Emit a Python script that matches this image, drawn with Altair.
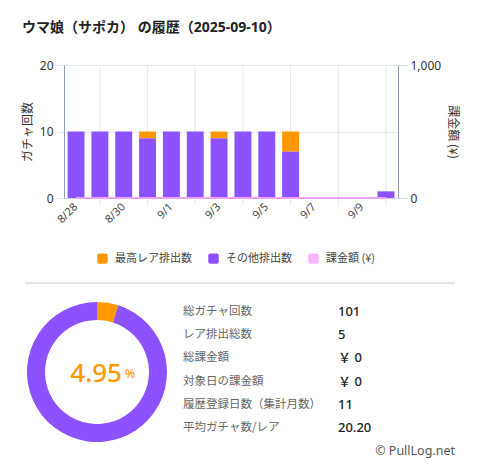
import altair as alt
import pandas as pd

# ---------------- data ----------------
dates = ["8/28", "8/29", "8/30", "8/31", "9/1", "9/2", "9/3",
         "9/4", "9/5", "9/6", "9/7", "9/8", "9/9", "9/10"]
rare = [0, 0, 0, 1, 0, 0, 1, 0, 0, 3, 0, 0, 0, 0]
other = [10, 10, 10, 9, 10, 10, 9, 10, 10, 7, 0, 0, 0, 1]
spend = [0, 0, 0, 0, 0, 0, 0, 0, 0, 0, 0, 0, 0, 0]
label_dates = dates[0::2]
grid_dates = dates[1::2]

series = ["最高レア排出数", "その他排出数", "課金額 (¥)"]
colors = ["#ff9800", "#8c52ff", "#f5b5fb"]

title_text = "ウマ娘（サポカ） の履歴（2025-09-10）"
left_title = "ガチャ回数"
right_title = "課金額 (¥)"
rate_text = "4.95"
donut_kinds = ["最高レア排出数", "その他排出数"]
donut_values = [5, 96]
stat_labels = ["総ガチャ回数", "レア排出総数", "総課金額", "対象日の課金額",
               "履歴登録日数（集計月数）", "平均ガチャ数/レア"]
stat_values = ["101", "5", "￥ 0", "￥ 0", "11", "20.20"]
footer = "© PullLog.net"

# ---------------- tables ----------------
bar_rows = []
for d, r, o in zip(dates, rare, other):
    bar_rows.append({"date": d, "kind": series[1], "count": o, "ord": 0})
    bar_rows.append({"date": d, "kind": series[0], "count": r, "ord": 1})
bar_df = pd.DataFrame(bar_rows)
day_df = pd.DataFrame({"date": dates, "spend": spend})
grid_df = pd.DataFrame({"date": grid_dates})
donut_df = pd.DataFrame({"kind": donut_kinds, "n": donut_values, "ord": [0, 1]})
stats_df = pd.DataFrame({"label": stat_labels, "value": stat_values,
                         "i": list(range(len(stat_labels)))})
one = pd.DataFrame({"a": [0]})

W, H = 334, 133
FONT = "'Noto Sans', 'Noto Sans CJK JP', sans-serif"
JP = "'Noto Sans CJK JP', sans-serif"
AXIS_LINE = "#8d9bb2"
GRID = "#e3e8ef"

rounded_sq = ("M -0.6 -1 L 0.6 -1 Q 1 -1 1 -0.6 L 1 0.6 Q 1 1 0.6 1 "
              "L -0.6 1 Q -1 1 -1 0.6 L -1 -0.6 Q -1 -1 -0.6 -1 Z")

legend = alt.Legend(
    title=None, orient="none", legendX=33, legendY=188, direction="horizontal",
    symbolType=rounded_sq, symbolSize=110, symbolStrokeWidth=0,
    labelFontSize=11, labelFont=JP, labelColor="#444", labelOffset=7,
    columnPadding=16,
)
color_enc = alt.Color("kind:N", scale=alt.Scale(domain=series, range=colors),
                      legend=legend)

x_enc = alt.X(
    "date:N",
    scale=alt.Scale(domain=dates, paddingInner=0.29, paddingOuter=0.15),
    axis=alt.Axis(values=label_dates, labelAngle=-45, title=None, ticks=False,
                  grid=False, labelFontSize=11, labelFont=FONT, labelColor="#444",
                  labelPadding=7, domainColor="#ccd3de"),
)

grid = alt.Chart(grid_df).mark_rule(color=GRID, strokeWidth=1).encode(
    x=alt.X("date:N"), y=alt.value(0), y2=alt.value(H + 7)
)

bars = alt.Chart(bar_df).mark_bar().encode(
    x=x_enc,
    y=alt.Y("count:Q", stack="zero", scale=alt.Scale(domain=[0, 20]),
            axis=alt.Axis(orient="left", values=[0, 10, 20], title=left_title,
                          grid=True, gridColor=GRID, tickColor=GRID, tickSize=7,
                          domainColor=AXIS_LINE, labelFontSize=12, labelFont=FONT,
                          labelColor="#333", labelPadding=4,
                          titleFontSize=12, titleFont=JP, titleFontWeight="normal",
                          titleColor="#333", titleX=-37, titleY=H / 2,
                          titleAngle=270, titleBaseline="middle", titleAlign="center")),
    color=color_enc,
    order=alt.Order("ord:Q"),
)

line = alt.Chart(day_df).mark_line(color="#eba4f5", strokeWidth=2).encode(
    x=alt.X("date:N"),
    y=alt.Y("spend:Q", scale=alt.Scale(domain=[0, 1000]),
            axis=alt.Axis(orient="right", values=[0, 1000],
                          labelExpr="format(datum.value, ',')",
                          title=right_title, grid=False, tickColor="#d5dbe4",
                          tickSize=9, domainColor=AXIS_LINE, labelFontSize=12,
                          labelFont=FONT, labelColor="#333", labelPadding=3,
                          titleFontSize=12, titleFont=JP, titleFontWeight="normal",
                          titleColor="#333", titleX=54, titleY=H / 2,
                          titleAngle=90, titleBaseline="middle", titleAlign="center")),
)

title = alt.Chart(pd.DataFrame({"t": [title_text]})).mark_text(
    align="left", baseline="middle", fontSize=14, fontWeight="bold",
    font=FONT, color="#222"
).encode(text="t:N", x=alt.value(-42), y=alt.value(-37))

sep = alt.Chart(one).mark_rule(color="#dddddd", strokeWidth=1.5).encode(
    x=alt.value(-39), x2=alt.value(391), y=alt.value(218)
)

donut = alt.Chart(donut_df).mark_arc(innerRadius=52, outerRadius=70).encode(
    theta=alt.Theta("n:Q", stack=True),
    color=color_enc,
    order=alt.Order("ord:Q"),
    x=alt.value(33), y=alt.value(307),
)

rate = alt.Chart(pd.DataFrame({"t": [rate_text]})).mark_text(
    align="right", baseline="alphabetic", fontSize=26, fontWeight=500,
    font=FONT, color="#ff9800"
).encode(text="t:N", x=alt.value(58), y=alt.value(317))

pct = alt.Chart(pd.DataFrame({"t": ["%"]})).mark_text(
    align="left", baseline="alphabetic", fontSize=12, fontWeight=500,
    font=FONT, color="#ff9800"
).encode(text="t:N", x=alt.value(61), y=alt.value(313))

stat_lab = alt.Chart(stats_df).transform_calculate(
    py="247 + 23.2 * datum.i"
).mark_text(align="left", baseline="middle", fontSize=11.5, font=JP,
            color="#666").encode(
    text="label:N", x=alt.value(119),
    y=alt.Y("py:Q", scale=None, axis=None),
)

stat_val = alt.Chart(stats_df).transform_calculate(
    py="247 + 23.2 * datum.i"
).mark_text(align="left", baseline="middle", fontSize=13, fontWeight=500,
            font=FONT, color="#222").encode(
    text="value:N", x=alt.value(274),
    y=alt.Y("py:Q", scale=None, axis=None),
)

foot = alt.Chart(pd.DataFrame({"t": [footer]})).mark_text(
    align="right", baseline="middle", fontSize=12.5, font=FONT, color="#555"
).encode(text="t:N", x=alt.value(391), y=alt.value(386))

chart = alt.layer(
    grid, bars, line, title, sep, donut, rate, pct, stat_lab, stat_val, foot
).resolve_scale(y="independent").properties(
    width=W, height=H,
    padding={"left": 56, "top": 57, "right": 74, "bottom": 262},
    autosize=alt.AutoSizeParams(type="none"),
).configure_view(stroke=None).configure(background="white")

chart.save("out.html", embed_options={"renderer": "svg", "actions": False})
